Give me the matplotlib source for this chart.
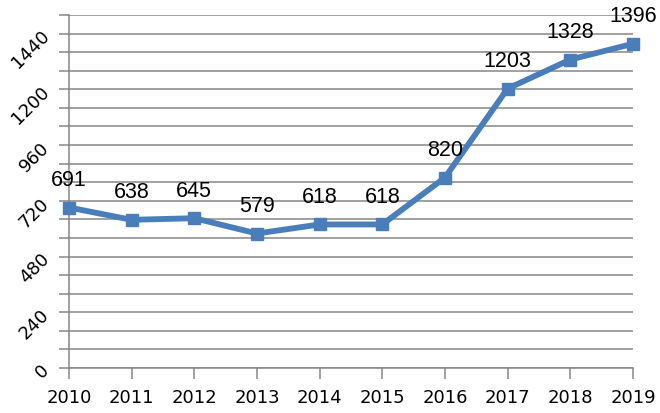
import matplotlib
matplotlib.use("Agg")
import matplotlib.pyplot as plt
from matplotlib.ticker import MultipleLocator, FuncFormatter

years = ["2010", "2011", "2012", "2013", "2014", "2015", "2016", "2017", "2018", "2019"]
values = [691, 638, 645, 579, 618, 618, 820, 1203, 1328, 1396]
y_label_ticks = [0, 240, 480, 720, 960, 1200, 1440]

line_color = "#4A7EBB"
grid_color = "#868686"

fig = plt.figure(figsize=(6.6, 4.13), dpi=100)
ax = fig.add_axes([0.1045, 0.109, 0.8545, 0.8547])

x = list(range(len(years)))
ax.plot(x, values, color=line_color, lw=4.2, marker="s", markersize=9,
        markerfacecolor=line_color, markeredgecolor=line_color, clip_on=False, zorder=3)

for xi, v in zip(x, values):
    ax.annotate(str(v), (xi, v), xytext=(0, 27), textcoords="offset pixels",
                ha="center", va="center", fontsize=15.5, family="Liberation Sans",
                color="black", zorder=4, annotation_clip=False)

ax.set_xlim(0, len(years) - 1)
ax.set_ylim(0, 1520)
ax.set_xticks(x)
ax.set_xticklabels(years, fontsize=13, family="DejaVu Sans")
ax.yaxis.set_major_locator(MultipleLocator(80))
ax.yaxis.set_major_formatter(FuncFormatter(lambda v, p: f"{int(round(v))}" if int(round(v)) in y_label_ticks else ""))
for lab in ax.get_yticklabels():
    lab.set_fontsize(13)
    lab.set_family("DejaVu Sans")
ax.tick_params(axis="y", length=7.2, width=1.1, color=grid_color, pad=9)
ax.tick_params(axis="x", length=7.8, width=1.1, color=grid_color, pad=7)
plt.setp(ax.get_yticklabels(), rotation=45, rotation_mode="anchor", ha="right", va="center")

ax.grid(axis="y", color=grid_color, lw=1.1)
ax.set_axisbelow(True)
for s in ["top", "right"]:
    ax.spines[s].set_visible(False)
for s in ["left", "bottom"]:
    ax.spines[s].set_color(grid_color)
    ax.spines[s].set_linewidth(1.1)

fig.savefig("out.png", dpi=100)
